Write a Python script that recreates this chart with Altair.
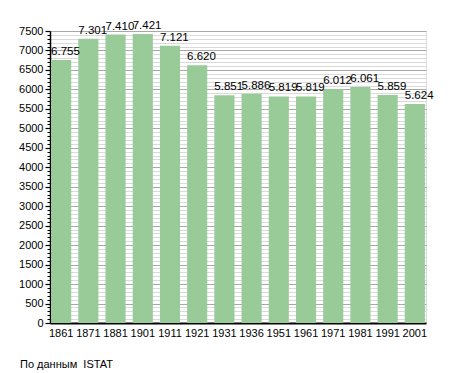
import altair as alt
import pandas as pd

years = ["1861", "1871", "1881", "1901", "1911", "1921", "1931", "1936",
         "1951", "1961", "1971", "1981", "1991", "2001"]
population = [6755, 7301, 7410, 7421, 7121, 6620, 5851, 5886,
              5819, 5819, 6012, 6061, 5859, 5624]
major_ticks = list(range(0, 7501, 500))
minor_ticks = [v for v in range(0, 7501, 100) if v % 500 != 0]
source_note = "По данным\u00a0 ISTAT"

df = pd.DataFrame({
    "year": years,
    "value": population,
    "label": [f"{v:,}".replace(",", ".") for v in population],
})

FONT = "Liberation Sans"
ydomain = alt.Scale(domain=[0, 7500], nice=False)
xscale = alt.Scale(paddingInner=0.26, paddingOuter=0.04)

major_axis = alt.Axis(
    values=major_ticks, orient="left", title=None, grid=True, format="d",
    gridColor="#a8a8a8", gridWidth=1, domainColor="#000000", domainWidth=1.5,
    tickColor="#000000", tickSize=5, tickWidth=1.2, labelFontSize=11,
    labelFont=FONT, labelColor="#000000", labelPadding=2,
)
minor_axis = alt.Axis(
    values=minor_ticks, orient="left", title=None, grid=True,
    gridColor="#dadada", gridWidth=1, domain=False, labels=False,
    tickColor="#000000", tickSize=3, tickWidth=1,
)
x_axis = alt.Axis(
    title=None, labelAngle=0, ticks=False, domainColor="#000000",
    domainWidth=2, labelFontSize=11, labelFont=FONT, labelColor="#000000",
    labelPadding=4, grid=False,
)

base = alt.Chart(df)

bars = base.mark_bar(color="#98cb98").encode(
    x=alt.X("year:N", sort=None, scale=xscale, axis=x_axis),
    y=alt.Y("value:Q", scale=ydomain, axis=major_axis),
)

labels = base.mark_text(
    align="left", baseline="bottom", dy=-3, fontSize=11.5, font=FONT, color="#000000"
).encode(
    x=alt.X("year:N", sort=None, scale=xscale, bandPosition=0, axis=x_axis),
    y=alt.Y("value:Q", scale=ydomain, axis=minor_axis),
    text="label:N",
)

chart = alt.layer(bars, labels).resolve_axis(y="independent").properties(
    width=376,
    height=292,
    autosize=alt.AutoSizeParams(type="none"),
    padding={"left": 42, "top": 23, "right": 10, "bottom": 50},
    title=alt.TitleParams(
        source_note, orient="bottom", anchor="start", frame="group",
        dx=-30, offset=21, fontSize=11, font=FONT, fontWeight="normal",
        color="#000000",
    ),
).configure_view(stroke=None).configure(background="#ffffff")

chart.save("out.html", embed_options={"renderer": "svg", "actions": False})
